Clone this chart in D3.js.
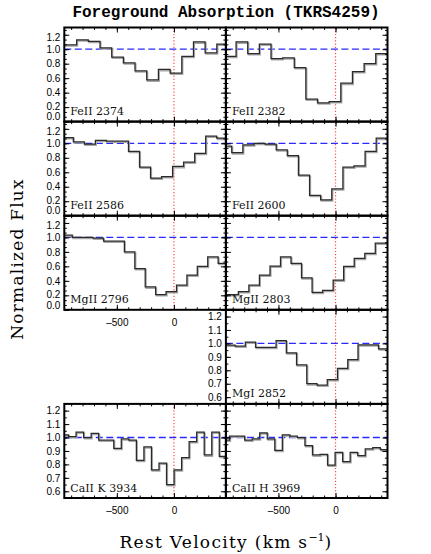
<!DOCTYPE html>
<html><head><meta charset="utf-8">
<script src="https://cdn.jsdelivr.net/npm/d3@7"></script>
<style>body{margin:0;background:#fff}svg{display:block}</style></head>
<body><svg id="c" width="431" height="554"></svg>
<script>
// ---------- data (bin-centre velocity in km/s, normalized flux) ----------
const velFeII2374 = [-903,-801,-699,-596,-494,-392,-290,-187,-85,18,120,222,324,427];
const fluxFeII2374 = [1.06,1.13,1.11,1.02,0.89,0.81,0.70,0.575,0.72,0.67,0.90,1.10,0.95,1.07];
const velFeII2382 = [-922,-820,-718,-616,-514,-412,-311,-209,-107,-5,97,199,301,403];
const fluxFeII2382 = [0.90,1.10,0.94,1.07,0.87,0.88,0.745,0.31,0.26,0.275,0.53,0.69,0.80,0.94];
const velFeII2586 = [-929,-833,-736,-640,-543,-446,-350,-253,-157,-60,36,133,230,326,423];
const fluxFeII2586 = [1.08,1.02,0.99,1.04,1.03,1.03,0.89,0.67,0.52,0.54,0.68,0.74,0.86,1.10,1.07];
const velFeII2600 = [-958,-860,-763,-666,-568,-471,-374,-276,-179,-82,16,113,210,307,405];
const fluxFeII2600 = [0.96,0.87,0.98,1.00,0.99,0.91,0.83,0.56,0.28,0.22,0.37,0.67,0.69,0.89,1.07];
const velMgII2796 = [-936,-844,-753,-662,-571,-480,-388,-297,-206,-115,-23,68,159,250,341,433];
const fluxMgII2796 = [1.03,1.00,1.00,0.99,0.95,0.95,0.80,0.57,0.315,0.21,0.25,0.34,0.48,0.60,0.73,0.64];
const velMgII2803 = [-897,-805,-713,-620,-528,-436,-344,-252,-159,-67,25,117,210,302,394];
const fluxMgII2803 = [0.21,0.25,0.34,0.48,0.605,0.73,0.64,0.44,0.24,0.27,0.41,0.60,0.71,0.78,0.92];
const velMgI2852 = [-925,-835,-745,-656,-566,-476,-386,-297,-207,-117,-28,62,152,241,331,421];
const fluxMgI2852 = [0.988,0.98,1.01,0.97,0.97,1.02,0.93,0.84,0.70,0.69,0.73,0.815,0.88,0.99,0.99,0.96];
const velCaIIK = [-956,-890,-824,-758,-692,-626,-560,-494,-428,-362,-296,-230,-164,-98,-32,34,100,166,232,298,364,430];
const fluxCaIIK = [1.02,1.006,1.04,1.00,1.03,0.98,0.98,0.92,0.99,0.98,0.83,0.93,0.76,0.81,0.65,0.76,0.85,0.97,1.04,0.87,1.04,0.86];
const velCaIIH = [-961,-895,-829,-763,-697,-631,-565,-499,-433,-367,-301,-235,-169,-103,-37,29,95,161,227,293,359,425];
const fluxCaIIH = [0.98,1.01,1.01,0.98,0.99,1.035,0.99,0.905,1.02,1.01,1.00,0.94,0.87,0.875,0.795,0.89,0.82,0.89,0.865,0.915,0.925,0.91];

const lineLabels = ["FeII 2374","FeII 2382","FeII 2586","FeII 2600","MgII 2796","MgII 2803","MgI 2852","CaII K 3934","CaII H 3969"];
const xTickValues = [-500, 0];
const yTicksWide = [0.0,0.2,0.4,0.6,0.8,1.0,1.2];
const yTicksNarrow = [0.6,0.7,0.8,0.9,1.0,1.1,1.2];
const titleText = "Foreground Absorption (TKRS4259)";
const xTitle = "Rest Velocity (km s";
const yTitle = "Normalized Flux";

// ---------- layout ----------
const X0 = 64.3, XW = 161.6, Y0 = 27.5, RH = 94.1;
const vDomain = [-960, 455];
const wideDomain = [0, 1.3], narrowDomain = [0.55, 1.25];

const panels = [
  {label: lineLabels[0], v: velFeII2374, f: fluxFeII2374, row:0, col:0, kind:"w", yLab:true,  xLab:false},
  {label: lineLabels[1], v: velFeII2382, f: fluxFeII2382, row:0, col:1, kind:"w", yLab:false, xLab:false},
  {label: lineLabels[2], v: velFeII2586, f: fluxFeII2586, row:1, col:0, kind:"w", yLab:true,  xLab:false},
  {label: lineLabels[3], v: velFeII2600, f: fluxFeII2600, row:1, col:1, kind:"w", yLab:false, xLab:false},
  {label: lineLabels[4], v: velMgII2796, f: fluxMgII2796, row:2, col:0, kind:"w", yLab:true,  xLab:true},
  {label: lineLabels[5], v: velMgII2803, f: fluxMgII2803, row:2, col:1, kind:"w", yLab:false, xLab:false},
  {label: lineLabels[6], v: velMgI2852,  f: fluxMgI2852,  row:3, col:1, kind:"n", yLab:true,  xLab:false},
  {label: lineLabels[7], v: velCaIIK,    f: fluxCaIIK,    row:4, col:0, kind:"n", yLab:true,  xLab:true},
  {label: lineLabels[8], v: velCaIIH,    f: fluxCaIIH,    row:4, col:1, kind:"n", yLab:false, xLab:true}
];

const svg = d3.select("#c");
const defs = svg.append("defs");
const tickFont = "DejaVu Sans";
const fmtX = d => d < 0 ? "\u2013" + Math.abs(d) : String(d);

panels.forEach((p, i) => {
  const left = X0 + p.col * XW, right = left + XW;
  const top = Y0 + p.row * RH, bottom = top + RH;
  const x = d3.scaleLinear().domain(vDomain).range([left, right]);
  const y = d3.scaleLinear().domain(p.kind === "w" ? wideDomain : narrowDomain).range([bottom, top]);
  const g = svg.append("g");

  defs.append("clipPath").attr("id", "clip" + i)
    .append("rect").attr("x", left).attr("y", top).attr("width", XW).attr("height", RH);

  // continuum at 1.0 (blue dashed)
  g.append("line").attr("x1", left).attr("x2", right).attr("y1", y(1)).attr("y2", y(1))
    .attr("stroke", "#2a2aff").attr("stroke-width", 1.3).attr("stroke-dasharray", "7,3.5");
  // zero velocity (red dotted)
  g.append("line").attr("x1", x(0)).attr("x2", x(0)).attr("y1", top).attr("y2", bottom)
    .attr("stroke", "#ff4848").attr("stroke-width", 1.2).attr("stroke-dasharray", "1.2,2");

  // step histogram
  const n = p.v.length, pts = [];
  for (let k = 0; k < n; k++) {
    let a = k === 0 ? p.v[0] - (p.v[1] - p.v[0]) / 2 : (p.v[k-1] + p.v[k]) / 2;
    let b = k === n - 1 ? p.v[k] + (p.v[k] - p.v[k-1]) / 2 : (p.v[k] + p.v[k+1]) / 2;
    if (k === 0) a = Math.min(a, vDomain[0]);
    if (k === n - 1) b = Math.max(b, vDomain[1]);
    pts.push([a, p.f[k]], [b, p.f[k]]);
  }
  const line = d3.line().x(d => x(d[0])).y(d => y(d[1]));
  const cg = g.append("g").attr("clip-path", `url(#clip${i})`);
  cg.append("path").attr("d", line(pts)).attr("fill", "none")
    .attr("stroke", "#a8a8a8").attr("stroke-width", 1.6).attr("transform", "translate(0.8,1.1)");
  cg.append("path").attr("d", line(pts)).attr("fill", "none")
    .attr("stroke", "#2a2a2a").attr("stroke-width", 1.25);

  // axes (inward ticks)
  const yMajor = p.kind === "w" ? yTicksWide : yTicksNarrow;
  const yMinor = p.kind === "w" ? d3.range(0, 1.3001, 0.2/3) : d3.range(0.55, 1.2501, 0.05);
  const xMinor = d3.range(-900, 456, 100);
  const axG = g.append("g").attr("font-family", tickFont).attr("font-size", 10.5);

  const ly = axG.append("g").attr("transform", `translate(${left},0)`)
    .call(d3.axisLeft(y).tickValues(yMajor).tickSize(-5).tickPadding(4)
      .tickFormat(p.yLab ? d3.format(".1f") : () => ""));
  axG.append("g").attr("transform", `translate(${left},0)`)
    .call(d3.axisLeft(y).tickValues(yMinor).tickSize(-2.5).tickFormat(() => ""));
  axG.append("g").attr("transform", `translate(${right},0)`)
    .call(d3.axisRight(y).tickValues(yMajor).tickSize(-5).tickFormat(() => ""));
  axG.append("g").attr("transform", `translate(${right},0)`)
    .call(d3.axisRight(y).tickValues(yMinor).tickSize(-2.5).tickFormat(() => ""));
  axG.append("g").attr("transform", `translate(0,${bottom})`).attr("font-size", 11)
    .call(d3.axisBottom(x).tickValues(xTickValues).tickSize(-5).tickPadding(9)
      .tickFormat(p.xLab ? fmtX : () => ""));
  axG.append("g").attr("transform", `translate(0,${bottom})`)
    .call(d3.axisBottom(x).tickValues(xMinor).tickSize(-2.5).tickFormat(() => ""));
  axG.append("g").attr("transform", `translate(0,${top})`)
    .call(d3.axisTop(x).tickValues(xTickValues).tickSize(-5).tickFormat(() => ""));
  axG.append("g").attr("transform", `translate(0,${top})`)
    .call(d3.axisTop(x).tickValues(xMinor).tickSize(-2.5).tickFormat(() => ""));
  axG.selectAll(".domain").remove();
  axG.selectAll(".tick line").attr("stroke", "#000").attr("stroke-width", 1);
  axG.selectAll(".tick text").attr("fill", "#000");

  if (p.kind === "w" && p.yLab) {
    ly.selectAll(".tick text").filter(d => d === 0).attr("dy", "-0.18em");
    ly.selectAll(".tick text").filter(d => Math.abs(d - 0.2) < 1e-9).attr("dy", "0.22em");
    ly.selectAll(".tick text").filter(d => Math.abs(d - 1.2) < 1e-9).attr("dy", "0.6em");
  }

  // panel label
  g.append("text").attr("x", left + 6).attr("y", bottom - 6.5)
    .attr("font-family", "DejaVu Serif").attr("font-size", 11).attr("fill", "#111")
    .text(p.label);

  p._box = [left, top];
});

// panel frames on top
panels.forEach(p => {
  svg.append("rect").attr("x", p._box[0]).attr("y", p._box[1]).attr("width", XW).attr("height", RH)
    .attr("fill", "none").attr("stroke", "#000").attr("stroke-width", 2);
});

// titles
svg.append("text").attr("x", 226).attr("y", 17).attr("text-anchor", "middle")
  .attr("font-family", "Liberation Mono").attr("font-weight", "bold").attr("font-size", 16)
  .text(titleText);

const xt = svg.append("text").attr("x", 226).attr("y", 548).attr("text-anchor", "middle")
  .attr("font-family", "DejaVu Serif").attr("font-size", 17).attr("letter-spacing", 1.3);
xt.append("tspan").text(xTitle);
xt.append("tspan").attr("dy", -7).attr("font-size", 11).attr("letter-spacing", 0).text("\u22121");
xt.append("tspan").attr("dy", 7).text(")");

svg.append("text").attr("transform", "translate(23,259) rotate(-90)").attr("text-anchor", "middle")
  .attr("font-family", "DejaVu Serif").attr("font-size", 17).attr("letter-spacing", 1.2)
  .text(yTitle);
</script>
</body></html>
